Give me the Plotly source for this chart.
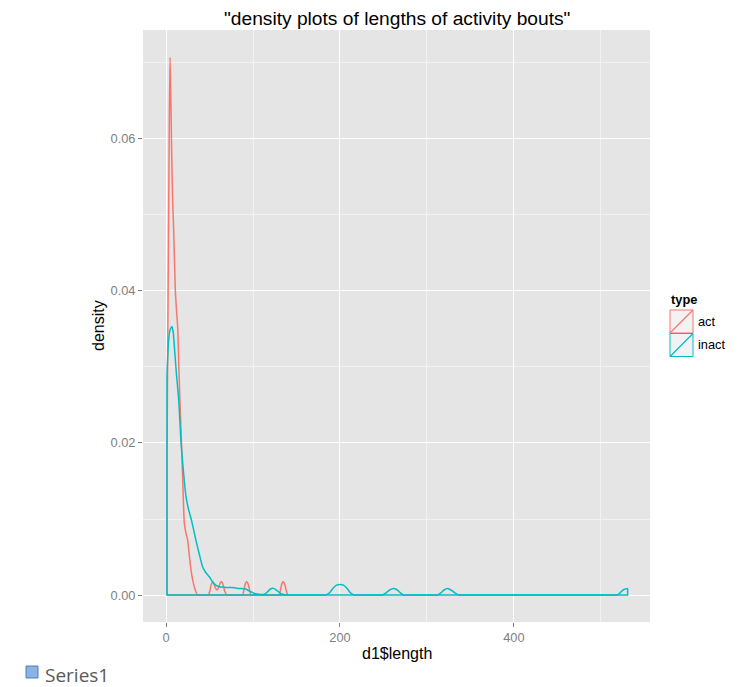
import plotly.graph_objects as go

# ---- data ----
act_x = [1.1, 2.0, 3.0, 3.8, 4.6, 5.4, 6.5, 7.6, 8.8, 10.7, 12.0, 13.4, 14.6, 15.8, 17.2,
         19.2, 21.0, 22.8, 24.9, 26.8, 28.7, 31.0, 34.4, 36.4, 40.0, 45.0, 47.0, 48.6,
         50.5, 52.0, 53.6, 55.3, 56.8, 58.6, 60.5, 62.3, 64.0, 65.7, 67.5, 70.0, 73.0,
         85.0, 88.0, 89.8, 91.2, 92.7, 94.2, 95.8, 97.6, 100.5, 127.0, 130.0, 131.8,
         133.2, 134.7, 136.2, 137.8, 139.7]
act_y = [0.018, 0.034, 0.050, 0.063, 0.0707, 0.066, 0.058, 0.052, 0.0479, 0.0400, 0.0375,
         0.0352, 0.0305, 0.026, 0.0217, 0.0151, 0.0095, 0.0082, 0.0072, 0.0052, 0.0033,
         0.0018, 0.0004, 0.0, 0.0, 0.0, 0.0, 0.0, 0.0006, 0.0014, 0.00175, 0.0014, 0.0009,
         0.00066, 0.0010, 0.0016, 0.00175, 0.0013, 0.0005, 0.0, 0.0, 0.0, 0.0, 0.0008,
         0.0015, 0.00175, 0.0015, 0.0008, 0.0, 0.0, 0.0, 0.0, 0.0008, 0.0015, 0.00175,
         0.0015, 0.0008, 0.0]

inact_x = [1.1, 2.0, 3.0, 4.2, 5.5, 6.9, 8.3, 10.0, 12.0, 14.6, 17.0, 19.2, 21.0, 23.0,
           25.8, 28.7, 31.5, 34.4, 38.0, 42.1, 45.5, 49.7, 53.6, 57.0, 61.2, 66.0, 70.0,
           74.6, 78.5, 82.3, 87.0, 91.8, 94.5, 97.6, 102.0, 107.0, 112.9, 116.5, 120.0,
           123.6, 127.5, 132.0, 139.7, 143.0, 180.0, 183.7, 188.0, 192.0, 196.0, 200.1,
           204.0, 208.0, 212.0, 216.2, 220.0, 245.0, 249.0, 253.0, 257.5, 261.4, 265.5,
           269.5, 273.0, 277.0, 308.0, 312.0, 316.0, 320.0, 323.4, 327.0, 332.0, 336.7,
           340.0, 515.0, 518.6, 522.0, 526.0, 530.8]
inact_y = [0.029, 0.0315, 0.0335, 0.0347, 0.0351, 0.0353, 0.0345, 0.032, 0.029, 0.0256,
           0.0205, 0.0173, 0.0150, 0.0129, 0.0113, 0.0101, 0.0087, 0.0072, 0.0055, 0.0037,
           0.0030, 0.0024, 0.00175, 0.0013, 0.0011, 0.00105, 0.0010, 0.0010, 0.00095,
           0.00088, 0.00085, 0.0008, 0.0006, 0.00044, 0.0002, 0.0001, 0.0001, 0.0004,
           0.0008, 0.00088, 0.0006, 0.0002, 0.0, 0.0, 0.0, 0.0, 0.0003, 0.0009, 0.0013,
           0.0014, 0.0013, 0.0009, 0.0003, 0.0, 0.0, 0.0, 0.0, 0.0003, 0.0007, 0.00088,
           0.0007, 0.0003, 0.0, 0.0, 0.0, 0.0, 0.0003, 0.0007, 0.00088, 0.0007, 0.0003, 0.0,
           0.0, 0.0, 0.0, 0.0003, 0.0007, 0.00088]

series_names = ["act", "inact"]
series_colors = ["#F8766D", "#00BFC4"]
x_ticks = [0, 200, 400]
y_ticks = [0.00, 0.02, 0.04, 0.06]
y_tick_text = ["0.00", "0.02", "0.04", "0.06"]

# ---- layout geometry (pixels) ----
W, H = 754, 687
L, R, T, B = 143, 650, 30, 622
pw, ph = R - L, B - T


def px(x):
    return (x - L) / pw


def py(y):
    return (B - y) / ph


fig = go.Figure()
for xs, ys, col in [(act_x, act_y, series_colors[0]), (inact_x, inact_y, series_colors[1])]:
    fig.add_trace(go.Scatter(x=xs, y=ys, mode="lines",
                             line=dict(color=col, width=1.5, shape="spline", smoothing=0.6),
                             showlegend=False, hoverinfo="skip"))
    fig.add_trace(go.Scatter(x=[xs[-1], xs[-1], xs[0], xs[0]], y=[ys[-1], 0, 0, ys[0]],
                             mode="lines", line=dict(color=col, width=1.5),
                             showlegend=False, hoverinfo="skip"))

axis_common = dict(
    showline=False, zeroline=False, ticks="outside", ticklen=4, tickwidth=1,
    tickcolor="#7F7F7F", showgrid=True, gridcolor="#FFFFFF", gridwidth=1.2,
    tickfont=dict(family="Liberation Sans, Arial", size=12.8, color="#7F7F7F"),
)

fig.update_xaxes(range=[-26.5, 556.5], tickvals=x_ticks,
                 minor=dict(tickvals=[100, 300, 500], showgrid=True,
                            gridcolor="#F2F2F2", gridwidth=0.8),
                 **axis_common)
fig.update_yaxes(range=[-0.00354, 0.0743], tickvals=y_ticks, ticktext=y_tick_text,
                 minor=dict(tickvals=[0.01, 0.03, 0.05, 0.07], showgrid=True,
                            gridcolor="#F2F2F2", gridwidth=0.8),
                 **axis_common)

shapes = []
annotations = []
font_main = "Liberation Sans, Arial"

# title
annotations.append(dict(text='"density plots of lengths of activity bouts"', xref="paper",
                        yref="paper", x=px(396.5), y=py(18), xanchor="center",
                        yanchor="middle", showarrow=False,
                        font=dict(family=font_main, size=19.2, color="#000000")))
# axis titles
annotations.append(dict(text="d1$length", xref="paper", yref="paper", x=px(396.5),
                        y=py(653), xanchor="center", yanchor="middle", showarrow=False,
                        font=dict(family=font_main, size=16, color="#000000")))
annotations.append(dict(text="density", xref="paper", yref="paper", x=px(98), y=py(326),
                        xanchor="center", yanchor="middle", textangle=-90,
                        showarrow=False,
                        font=dict(family=font_main, size=16, color="#000000")))

# legend (drawn by hand, ggplot style keys)
annotations.append(dict(text="<b>type</b>", xref="paper", yref="paper", x=px(668.5),
                        y=py(299), xanchor="left", yanchor="middle", showarrow=False,
                        font=dict(family=font_main, size=12.8, color="#000000")))
key_top = 310
key = 23.5
for i, (name, col) in enumerate(zip(series_names, series_colors)):
    y0 = key_top + i * key
    y1 = y0 + key - 0.5
    shapes.append(dict(type="rect", xref="paper", yref="paper", x0=px(670), x1=px(693),
                       y0=py(y1), y1=py(y0), fillcolor="#F2F2F2",
                       line=dict(color=col, width=1)))
    shapes.append(dict(type="line", xref="paper", yref="paper", x0=px(670), x1=px(693),
                       y0=py(y1), y1=py(y0), line=dict(color=col, width=1.3)))
    annotations.append(dict(text=name, xref="paper", yref="paper", x=px(696),
                            y=py((y0 + y1) / 2), xanchor="left", yanchor="middle",
                            showarrow=False,
                            font=dict(family=font_main, size=12.8, color="#000000")))

# stray "Series1" label at bottom-left
shapes.append(dict(type="rect", xref="paper", yref="paper", x0=px(26), x1=px(38),
                   y0=py(678), y1=py(666), fillcolor="#8DB3E2",
                   line=dict(color="#4A7EBB", width=1)))
annotations.append(dict(text="Series1", xref="paper", yref="paper", x=px(43), y=py(675),
                        xanchor="left", yanchor="middle", showarrow=False,
                        font=dict(family="Open Sans", size=19, color="#595959")))

fig.update_layout(
    width=W, height=H, autosize=False,
    margin=dict(l=L, r=W - R, t=T, b=H - B, pad=0),
    paper_bgcolor="#FFFFFF", plot_bgcolor="#E5E5E5",
    showlegend=False, shapes=shapes, annotations=annotations,
)

fig.write_html("out.html")
